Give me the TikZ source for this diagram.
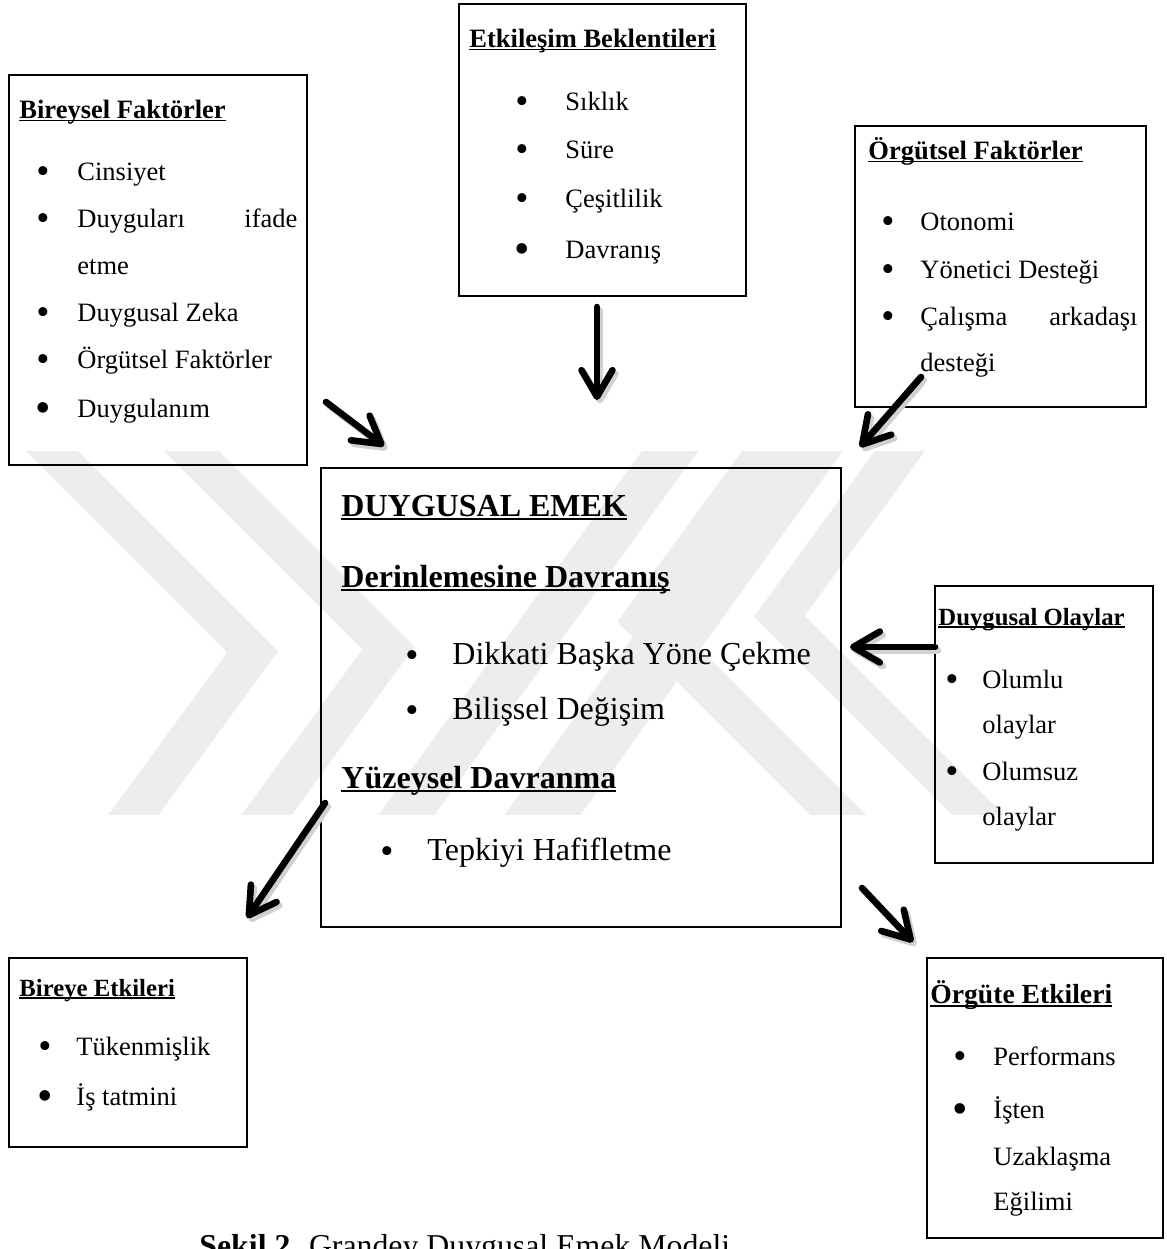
\documentclass[tikz,border=0pt]{standalone}
\usepackage{fontspec}
\setmainfont{Liberation Serif}
\usetikzlibrary{arrows.meta,fit}
\newcommand\ulx[1]{\setbox0\hbox{#1}\rlap{\rule[-0.13em]{\wd0}{0.07em}}\box0}
\newcommand\bulA{\raisebox{-1.7pt}{\fontsize{17}{17}\selectfont •}}
\newcommand\bulB{\raisebox{-2.6pt}{\fontsize{20}{20}\selectfont •}}
\begin{document}
\begin{tikzpicture}[x=0.4528pt,y=-0.4528pt,
  box/.style={draw,line width=1pt,inner sep=0pt},
  txt/.style={anchor=base west,inner sep=0pt,font=\fontsize{12}{14}\selectfont},
  ttl/.style={anchor=base west,inner sep=0pt,font=\fontsize{12}{14}\selectfont\bfseries},
  sttl/.style={anchor=base west,inner sep=0pt,font=\fontsize{11.2}{13}\selectfont\bfseries},
  bul/.style={anchor=base,inner sep=0pt,font=\fontsize{12}{14}\selectfont},
  big/.style={anchor=base west,inner sep=0pt,font=\fontsize{14.5}{17}\selectfont},
  bigttl/.style={anchor=base west,inner sep=0pt,font=\fontsize{14.5}{17}\selectfont\bfseries},
  wmark/.style={fill=black!7,draw=none},
  arr/.style={line width=3pt,line cap=round,line join=round,-{Straight Barb[length=12pt,width=14pt,round]}},
  arrsh/.style={arr,draw=black!18,transform canvas={xshift=1.3pt,yshift=-1.6pt}}]
\useasboundingbox (0,0) rectangle (1166,1249);
\fill[white] (0,0) rectangle (1166,1249);

% ---------- faint background watermark ----------
\begin{scope}
\clip (0,451) rectangle (1166,814);
\fill[wmark] (26,451) -- (78,451) -- (278.1,651.1) -- (157,817) -- (107,817) -- (227.3,652.3) -- cycle;
\fill[wmark] (164,451) -- (219,451) -- (414.5,646.5) -- (290,817) -- (240,817) -- (362.4,649.4) -- cycle;
\fill[wmark] (1006,817) -- (954,817) -- (753.9,616.9) -- (875,451) -- (925,451) -- (804.7,615.7) -- cycle;
\fill[wmark] (868,817) -- (813,817) -- (617.5,621.5) -- (742,451) -- (792,451) -- (669.6,618.6) -- cycle;
\fill[wmark] (377,817) -- (433,817) -- (698,451) -- (642,451) -- cycle;
\fill[wmark] (503,817) -- (579,817) -- (843,451) -- (767,451) -- cycle;
\end{scope}

% ---------- boxes ----------
\node[box,fit={(9,75) (307,465)}] (bir) {};
\node[box,fit={(459,4) (746,296)}] (etk) {};
\node[box,fit={(855,126) (1146,407)}] (org) {};
\node[box,fit={(935,586) (1153,863)}] (olay) {};
\node[box,fit={(321,468) (841,927)}] (emek) {};
\node[box,fit={(9,958) (247,1147)}] (bet) {};
\node[box,fit={(927,958) (1163,1238)}] (oet) {};

% ---------- Bireysel Faktörler ----------
\node[ttl] (bir-t) at (19,118) {\ulx{Bireysel Faktörler}};
\node[bul] (bir-b1) at (43,180) {\bulA};
\node[txt] (bir-1) at (77,180) {Cinsiyet};
\node[bul] (bir-b2) at (43,227) {\bulA};
\node[txt] (bir-2) at (77,227) {\hbox to 99.6pt{Duyguları\hfill ifade}};
\node[txt] (bir-2b) at (77,274) {etme};
\node[bul] (bir-b3) at (43,321) {\bulA};
\node[txt] (bir-3) at (77,321) {Duygusal Zeka};
\node[bul] (bir-b4) at (43,368) {\bulA};
\node[txt] (bir-4) at (77,368) {Örgütsel Faktörler};
\node[bul] (bir-b5) at (43,417) {\bulB};
\node[txt] (bir-5) at (77,417) {Duygulanım};

% ---------- Etkileşim Beklentileri ----------
\node[ttl] (etk-t) at (469,47) {\ulx{Etkileşim Beklentileri}};
\node[bul] (etk-b1) at (522,110) {\bulA};
\node[txt] (etk-1) at (565,110) {Sıklık};
\node[bul] (etk-b2) at (522,158) {\bulA};
\node[txt] (etk-2) at (565,158) {Süre};
\node[bul] (etk-b3) at (522,207) {\bulA};
\node[txt] (etk-3) at (565,207) {Çeşitlilik};
\node[bul] (etk-b4) at (522,258) {\bulB};
\node[txt] (etk-4) at (565,258) {Davranış};

% ---------- Örgütsel Faktörler ----------
\node[ttl] (org-t) at (868,159) {\ulx{Örgütsel Faktörler}};
\node[bul] (org-b1) at (888,230) {\bulA};
\node[txt] (org-1) at (920,230) {Otonomi};
\node[bul] (org-b2) at (888,278) {\bulA};
\node[txt] (org-2) at (920,278) {Yönetici Desteği};
\node[bul] (org-b3) at (888,325) {\bulA};
\node[txt] (org-3) at (920,325) {\hbox to 98.3pt{Çalışma\hfill arkadaşı}};
\node[txt] (org-3b) at (920,371) {desteği};

% ---------- Duygusal Olaylar ----------
\node[sttl] (olay-t) at (938,625) {\ulx{Duygusal Olaylar}};
\node[bul] (olay-b1) at (952,688) {\bulA};
\node[txt] (olay-1) at (982,688) {Olumlu};
\node[txt] (olay-1b) at (982,733) {olaylar};
\node[bul] (olay-b2) at (952,780) {\bulA};
\node[txt] (olay-2) at (982,780) {Olumsuz};
\node[txt] (olay-2b) at (982,825) {olaylar};

% ---------- DUYGUSAL EMEK ----------
\node[bigttl] (emek-t) at (341,516) {\ulx{DUYGUSAL EMEK}};
\node[bigttl] (emek-d) at (341,587) {\ulx{Derinlemesine Davranış}};
\node[bul] (emek-b1) at (412,664) {\bulA};
\node[big] (emek-1) at (452,664) {Dikkati Başka Yöne Çekme};
\node[bul] (emek-b2) at (412,719) {\bulA};
\node[big] (emek-2) at (452,719) {Bilişsel Değişim};
\node[bigttl] (emek-y) at (341,788) {\ulx{Yüzeysel Davranma}};
\node[bul] (emek-b3) at (387,860) {\bulA};
\node[big] (emek-3) at (427,860) {Tepkiyi Hafifletme};

% ---------- Bireye Etkileri ----------
\node[sttl] (bet-t) at (19,996) {\ulx{Bireye Etkileri}};
\node[bul] (bet-b1) at (45,1055) {\bulA};
\node[txt] (bet-1) at (76,1055) {Tükenmişlik};
\node[bul] (bet-b2) at (45,1105) {\bulB};
\node[txt] (bet-2) at (76,1105) {İş tatmini};

% ---------- Örgüte Etkileri ----------
\node[anchor=base west,inner sep=0pt,font=\fontsize{12.5}{14}\selectfont\bfseries] (oet-t) at (930,1003) {\ulx{Örgüte Etkileri}};
\node[bul] (oet-b1) at (960,1065) {\bulA};
\node[txt] (oet-1) at (993,1065) {Performans};
\node[bul] (oet-b2) at (960,1118) {\bulB};
\node[txt] (oet-2) at (993,1118) {İşten};
\node[txt] (oet-2b) at (993,1165) {Uzaklaşma};
\node[txt] (oet-2c) at (993,1210) {Eğilimi};

% ---------- caption ----------
\node[anchor=base west,inner sep=0pt,font=\fontsize{14.4}{17}\selectfont] (cap) at (199,1256) {\textbf{Şekil 2.} Grandey Duygusal Emek Modeli};

% ---------- arrows ----------
\coordinate (a1s) at (326,402); \coordinate (a1e) at (384,446);
\coordinate (a2s) at (597,307); \coordinate (a2e) at (597,400);
\coordinate (a3s) at (921,377); \coordinate (a3e) at (860,447);
\coordinate (a4s) at (935,647); \coordinate (a4e) at (850,647);
\coordinate (a5s) at (325,803); \coordinate (a5e) at (247,918);
\coordinate (a6s) at (862,888); \coordinate (a6e) at (913,942);
\foreach \s/\e in {a1s/a1e,a2s/a2e,a3s/a3e,a4s/a4e,a5s/a5e,a6s/a6e}{
  \draw[arrsh] (\s) -- (\e);
  \draw[arr] (\s) -- (\e);
}
\end{tikzpicture}
\end{document}
